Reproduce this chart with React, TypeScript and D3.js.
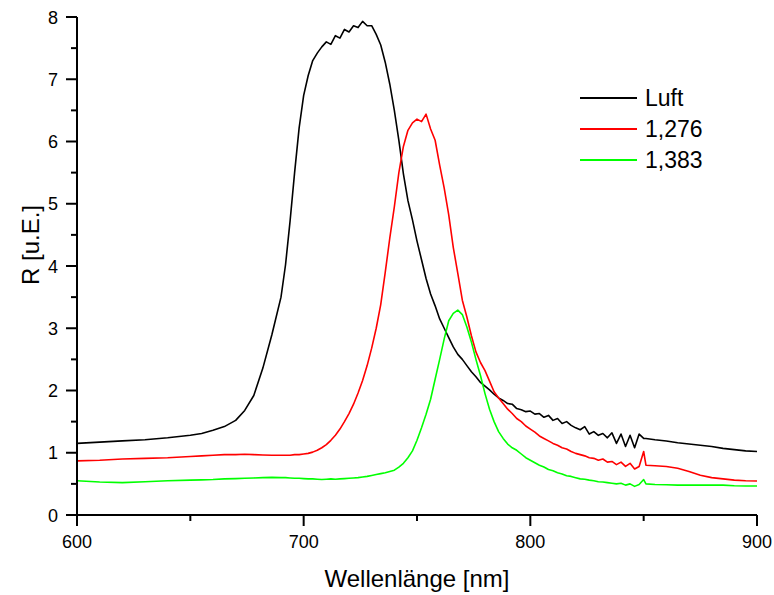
import React from 'react';
import * as d3 from 'd3';

// wavelengths in nm (shared x grid for all three spectra)
const wavelengths = [
  600, 610, 620, 630, 640, 650, 655, 660, 665, 670, 674, 678, 682, 686,
  690, 692, 694, 696, 698, 700, 702, 704, 706, 708, 710, 712, 714, 716, 718, 720,
  722, 724, 726, 728, 730, 732, 734, 736, 738, 740, 742, 744, 746, 748, 750, 752,
  754, 756, 758, 760, 762, 764, 766, 768, 770, 772, 774, 776, 778, 780, 782, 784,
  786, 788, 790, 792, 794, 796, 798, 800, 802, 804, 806, 808, 810, 812, 814, 816,
  818, 820, 822, 824, 826, 828, 830, 832, 834, 836, 838, 840, 842, 844, 846, 848,
  850, 851, 855, 860, 865, 870, 875, 880, 885, 890, 895, 900,
];

const luft = [
  1.15, 1.17, 1.19, 1.21, 1.24, 1.28, 1.31, 1.36, 1.42, 1.52, 1.68, 1.92, 2.36, 2.9,
  3.5, 4.02, 4.72, 5.5, 6.22, 6.74, 7.06, 7.3, 7.42, 7.52, 7.6, 7.56, 7.7, 7.66, 7.8, 7.76,
  7.86, 7.83, 7.93, 7.86, 7.86, 7.72, 7.55, 7.27, 6.92, 6.5, 6.02, 5.48, 5.05, 4.74, 4.4, 4.1,
  3.8, 3.55, 3.36, 3.15, 3.0, 2.85, 2.7, 2.58, 2.5, 2.4, 2.3, 2.22, 2.13, 2.07, 2.01, 1.94,
  1.88, 1.84, 1.79, 1.78, 1.71, 1.69, 1.66, 1.67, 1.62, 1.63, 1.57, 1.6, 1.52, 1.55, 1.47, 1.5,
  1.44, 1.4, 1.37, 1.42, 1.3, 1.34, 1.28, 1.31, 1.24, 1.32, 1.15, 1.3, 1.1, 1.28, 1.08, 1.3,
  1.23, 1.23, 1.21, 1.19, 1.16, 1.14, 1.12, 1.1, 1.07, 1.05, 1.03, 1.02,
];

const n1276 = [
  0.87, 0.88, 0.9, 0.91, 0.92, 0.94, 0.95, 0.96, 0.97, 0.97, 0.975, 0.97, 0.965, 0.96,
  0.96, 0.96, 0.96, 0.97, 0.97, 0.98, 0.99, 1.01, 1.04, 1.08, 1.13, 1.2, 1.28, 1.38, 1.5, 1.63,
  1.78, 1.96, 2.16, 2.4, 2.68, 3.0, 3.38, 3.9, 4.45, 4.95, 5.5, 5.92, 6.18, 6.3, 6.36, 6.32,
  6.44, 6.2, 6.02, 5.62, 5.25, 4.82, 4.3, 3.88, 3.45, 3.18, 2.88, 2.62, 2.45, 2.32, 2.15, 1.98,
  1.88, 1.79, 1.7, 1.63, 1.55, 1.5, 1.43, 1.38, 1.33, 1.27, 1.23, 1.19, 1.15, 1.12, 1.08, 1.06,
  1.02, 0.99, 0.97, 0.95, 0.92, 0.91, 0.88, 0.9, 0.85, 0.86, 0.81, 0.85, 0.78, 0.83, 0.74, 0.78,
  1.02, 0.8, 0.79, 0.78, 0.75, 0.7, 0.64, 0.6, 0.58, 0.56, 0.55, 0.545,
];

const n1383 = [
  0.55, 0.53, 0.52, 0.535, 0.55, 0.56, 0.565, 0.57, 0.58, 0.585, 0.59, 0.595, 0.6, 0.605,
  0.6, 0.6, 0.595, 0.59, 0.59, 0.585, 0.58, 0.58, 0.575, 0.57, 0.575, 0.58, 0.575, 0.58, 0.585, 0.59,
  0.595, 0.6, 0.61, 0.62, 0.635, 0.65, 0.665, 0.68, 0.7, 0.72, 0.77, 0.83, 0.92, 1.03, 1.2, 1.4,
  1.62, 1.86, 2.18, 2.5, 2.83, 3.12, 3.24, 3.29, 3.22, 3.02, 2.78, 2.5, 2.24, 1.95, 1.7, 1.5,
  1.34, 1.23, 1.14, 1.08, 1.04, 0.98, 0.92, 0.88, 0.84, 0.8, 0.77, 0.73, 0.71, 0.68, 0.66, 0.63,
  0.62, 0.6, 0.58, 0.575, 0.56, 0.55, 0.535, 0.53, 0.52, 0.51, 0.5, 0.51, 0.48, 0.5, 0.46, 0.49,
  0.57, 0.5, 0.49, 0.485, 0.48, 0.48, 0.48, 0.48, 0.48, 0.47, 0.465, 0.465,
];

const seriesNames = ['Luft', '1,276', '1,383'];
const seriesColors = ['#000000', '#ff0000', '#00ff00'];
const xTicks = [600, 700, 800, 900];
const xMinorTicks = [650, 750, 850];
const yTicks = [0, 1, 2, 3, 4, 5, 6, 7, 8];
const yMinorTicks = [0.5, 1.5, 2.5, 3.5, 4.5, 5.5, 6.5, 7.5];

const font = 'Arial, "Liberation Sans", sans-serif';

export default function App() {
  const width = 774;
  const height = 595;
  const left = 77;
  const right = 757;
  const top = 17;
  const bottom = 515;

  const x = d3.scaleLinear().domain([600, 900]).range([left, right]);
  const y = d3.scaleLinear().domain([0, 8]).range([bottom, top]);

  const line = d3
    .line<number>()
    .x((_, i) => x(wavelengths[i]))
    .y((d) => y(d));

  const allSeries = [luft, n1276, n1383];

  return (
    <svg
      width={width}
      height={height}
      style={{ position: 'absolute', left: 0, top: 0, background: '#fff' }}
      fontFamily={font}
    >
      {allSeries.map((s, i) => (
        <path
          key={seriesNames[i]}
          d={line(s) || ''}
          fill="none"
          stroke={seriesColors[i]}
          strokeWidth={1.6}
          strokeLinejoin="round"
        />
      ))}

      {/* axes */}
      <line x1={left} x2={left} y1={top} y2={bottom} stroke="#000" strokeWidth={2} />
      <line x1={left} x2={right} y1={bottom} y2={bottom} stroke="#000" strokeWidth={2} />

      {yTicks.map((t) => (
        <g key={'y' + t}>
          <line x1={left - 11} x2={left} y1={y(t)} y2={y(t)} stroke="#000" strokeWidth={2} />
          <text x={left - 19} y={y(t) + 6.5} fontSize={18} textAnchor="end">
            {t}
          </text>
        </g>
      ))}
      {yMinorTicks.map((t) => (
        <line key={'ym' + t} x1={left - 6} x2={left} y1={y(t)} y2={y(t)} stroke="#000" strokeWidth={2} />
      ))}

      {xTicks.map((t) => (
        <g key={'x' + t}>
          <line x1={x(t)} x2={x(t)} y1={bottom} y2={bottom + 11} stroke="#000" strokeWidth={2} />
          <text x={x(t)} y={bottom + 33} fontSize={18} textAnchor="middle">
            {t}
          </text>
        </g>
      ))}
      {xMinorTicks.map((t) => (
        <line key={'xm' + t} x1={x(t)} x2={x(t)} y1={bottom} y2={bottom + 6} stroke="#000" strokeWidth={2} />
      ))}

      <text x={417} y={587} fontSize={24} textAnchor="middle">
        Wellenlänge [nm]
      </text>
      <text transform="translate(39, 245) rotate(-90)" fontSize={24} textAnchor="middle">
        R [u.E.]
      </text>

      {/* legend */}
      {seriesNames.map((name, i) => (
        <g key={'leg' + name} transform={`translate(580, ${98 + i * 31})`}>
          <line x1={0} x2={57} y1={0} y2={0} stroke={seriesColors[i]} strokeWidth={2} />
          <text x={65} y={8} fontSize={23}>
            {name}
          </text>
        </g>
      ))}
    </svg>
  );
}
